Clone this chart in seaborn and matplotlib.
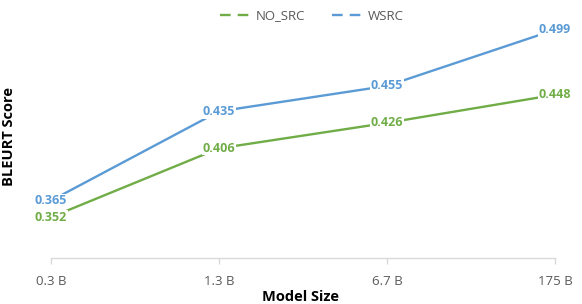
import pandas as pd
import seaborn as sns
import matplotlib.pyplot as plt
from matplotlib.lines import Line2D

# Chart values
model_sizes = ["0.3 B", "1.3 B", "6.7 B", "175 B"]
no_src = [0.352, 0.406, 0.426, 0.448]
wsrc = [0.365, 0.435, 0.455, 0.499]

GREEN = "#70AD47"
BLUE = "#5B9BD5"
GRAY_TEXT = "#595959"

df = pd.DataFrame({
    "Model Size": model_sizes * 2,
    "pos": list(range(len(model_sizes))) * 2,
    "BLEURT Score": no_src + wsrc,
    "Setting": ["NO_SRC"] * len(no_src) + ["WSRC"] * len(wsrc),
})

sns.set_theme(style="white")
plt.rcParams["font.family"] = ["Open Sans", "DejaVu Sans"]

fig = plt.figure(figsize=(5.82, 3.04), dpi=100)
ax = fig.add_axes([51 / 582, 1 - 258 / 304, 504 / 582, 255 / 304])

palette = {"NO_SRC": GREEN, "WSRC": BLUE}
sns.lineplot(data=df, x="pos", y="BLEURT Score", hue="Setting",
             palette=palette, linewidth=1.7, ax=ax, legend=False)

# data labels with white background on top of the line
for series, color in [(no_src, GREEN), (wsrc, BLUE)]:
    for i, v in enumerate(series):
        ax.text(i, v, f"{v:.3f}", color=color, fontsize=9, fontweight="bold",
                ha="center", va="center", zorder=5,
                bbox=dict(boxstyle="square,pad=0.05", fc="white", ec="none"))

ax.set_xlim(0, len(model_sizes) - 1)
ax.set_ylim(0.32, 0.52)
ax.set_xticks(range(len(model_sizes)))
ax.set_xticklabels(model_sizes)
ax.set_yticks([])

for side in ["top", "right", "left"]:
    ax.spines[side].set_visible(False)
ax.spines["bottom"].set_color("#D9D9D9")
ax.spines["bottom"].set_linewidth(1.0)
ax.tick_params(axis="x", length=4, width=1.0, color="#D9D9D9", direction="out",
               pad=8, labelsize=9.5, labelcolor=GRAY_TEXT, bottom=True)

ax.set_xlabel("Model Size", fontsize=10.5, fontweight="bold", color="black")
ax.xaxis.set_label_coords(0.496, -0.152)
ax.xaxis.label.set_va("center")
ax.set_ylabel("BLEURT Score", fontsize=10.5, fontweight="bold", color="black")
ax.yaxis.set_label_coords(-0.083, 0.475)
ax.yaxis.label.set_va("center")

handles = [Line2D([], [], color=GREEN, lw=1.7, linestyle=(0, (4.5, 3))),
           Line2D([], [], color=BLUE, lw=1.7, linestyle=(0, (4.5, 3)))]
leg = ax.legend(handles, ["NO_SRC", "WSRC"], loc="center", ncol=2,
                bbox_to_anchor=(0.518, 0.949), frameon=False, fontsize=9.5,
                handlelength=2.6, handletextpad=0.15, columnspacing=2.0)
for t in leg.get_texts():
    t.set_color(GRAY_TEXT)

fig.savefig("out.png", dpi=100)
